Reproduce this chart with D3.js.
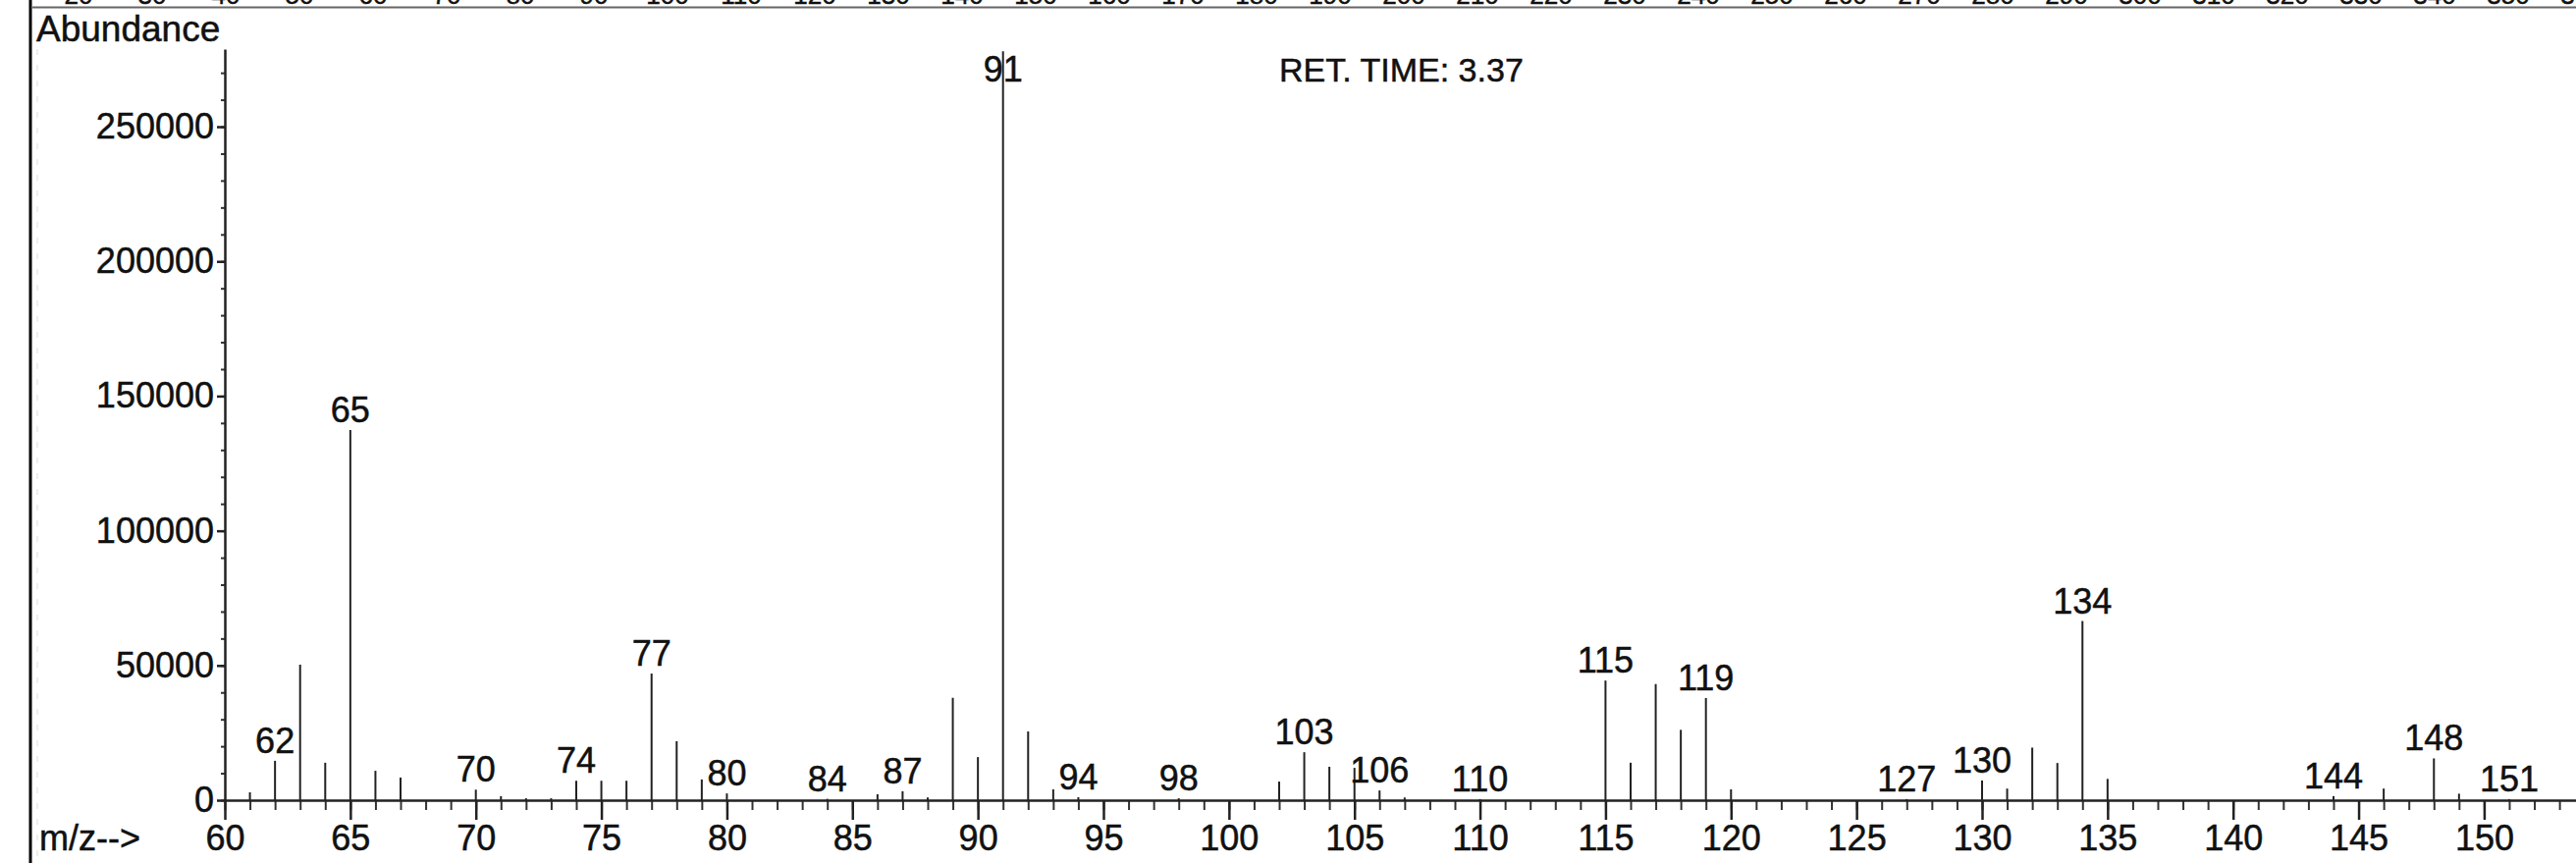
<!DOCTYPE html>
<html>
<head>
<meta charset="utf-8">
<script src="https://cdn.jsdelivr.net/npm/d3@7"></script>
<style>
  body { margin: 0; background: #fff; }
  svg { display: block; }
  text { font-family: "Liberation Sans", Arial, Helvetica, sans-serif; fill: #111; stroke: #111; stroke-width: 0.5px; }
</style>
</head>
<body>
<div id="spectrum"></div>
<script>
// m/z values and abundances
let mzValues = [61, 62, 63, 64, 65, 66, 67, 70, 71, 72, 73, 74, 75, 76, 77, 78, 79, 80,
  84, 86, 87, 88, 89, 90, 91, 92, 93, 94, 98, 102, 103, 104, 105, 106, 107, 110,
  115, 116, 117, 118, 119, 120, 127, 130, 131, 132, 133, 134, 135, 144, 146, 148, 149, 151];
let abundances = [2900, 14600, 50300, 13900, 137400, 10900, 8400, 3900, 1500, 700, 700, 7200, 7200, 7200, 47000, 21900, 7700, 2500,
  500, 2200, 3300, 1000, 38000, 16000, 278000, 25500, 4000, 1100, 700, 6900, 17800, 12400, 12000, 3600, 1000, 400,
  44400, 13900, 43100, 26100, 37900, 4000, 400, 7300, 4300, 19500, 13800, 66500, 7900, 1500, 4300, 15500, 2400, 400];
let labelledMz = [62, 65, 70, 74, 77, 80, 84, 87, 91, 94, 98, 103, 106, 110, 115, 119, 127, 130, 134, 144, 148, 151];

let yTickValues = [0, 50000, 100000, 150000, 200000, 250000];
let xTickValues = d3.range(60, 151, 5);
// row of labels from the panel above, cut off by the top edge
let upperTickLabels = d3.range(20, 370, 10);

let width = 2624;
let height = 879;

let svg = d3.select('#spectrum').append('svg').attr('width', width).attr('height', height);
svg.append('rect').attr('width', width).attr('height', height).attr('fill', '#fff');

let x = d3.scaleLinear().domain([60, 153.66]).range([229, 2624]);
let y = d3.scaleLinear().domain([0, 278800]).range([815, 50]).clamp(true);

// remains of the panel above
let upperX = d3.scaleLinear().domain([100, 350]).range([680, 2555]);
svg.append('g').selectAll('text').data(upperTickLabels).enter().append('text')
  .attr('x', d => upperX(d)).attr('y', 4)
  .attr('text-anchor', 'middle').style('font-size', '26px')
  .text(d => d);
svg.append('line').attr('x1', 33).attr('x2', width).attr('y1', 7.5).attr('y2', 7.5)
  .style('stroke', '#666').style('stroke-width', 2);

// left frame
svg.append('line').attr('x1', 31).attr('x2', 31).attr('y1', 0).attr('y2', height)
  .style('stroke', '#000').style('stroke-width', 3);
svg.append('line').attr('x1', 38).attr('x2', 38).attr('y1', 50).attr('y2', height)
  .style('stroke', '#ddd').style('stroke-width', 1).style('stroke-dasharray', '6,10');

svg.append('text').attr('x', 37).attr('y', 42).style('font-size', '37px').text('Abundance');
svg.append('text').attr('x', 1303).attr('y', 83).style('font-size', '34px').text('RET. TIME: 3.37');
svg.append('text').attr('x', 40).attr('y', 866).style('font-size', '36px').text('m/z-->');

// y axis, minor then major
let yMinor = svg.append('g').attr('transform', 'translate(229,0)')
  .call(d3.axisLeft(y).tickValues(d3.range(0, 278000, 10000)).tickSize(4).tickSizeOuter(0).tickFormat(''));
yMinor.select('.domain').remove();
let yAxis = svg.append('g').attr('transform', 'translate(229,0)')
  .call(d3.axisLeft(y).tickValues(yTickValues).tickSize(8).tickSizeOuter(0).tickPadding(3).tickFormat(d3.format('d')));
yAxis.selectAll('text').style('font-size', '36px').style('font-family', '"Liberation Sans", Arial, sans-serif').attr('fill', '#111');
yAxis.selectAll('line, path').style('stroke', '#222').style('stroke-width', 2.5);
yMinor.selectAll('line').style('stroke', '#333').style('stroke-width', 2);

// x axis
let xMinor = svg.append('g').attr('transform', 'translate(0,' + y(0) + ')')
  .call(d3.axisBottom(x).tickValues(d3.range(60, 154, 1)).tickSize(10).tickSizeOuter(0).tickFormat(''));
xMinor.select('.domain').remove();
xMinor.selectAll('line').style('stroke', '#333').style('stroke-width', 2);
let xAxis = svg.append('g').attr('transform', 'translate(0,' + y(0) + ')')
  .call(d3.axisBottom(x).tickValues(xTickValues).tickSize(20).tickSizeOuter(0).tickFormat(d3.format('d')));
xAxis.selectAll('line, path').style('stroke', '#222').style('stroke-width', 2.5);
xAxis.selectAll('text').attr('y', 51).attr('dy', null)
  .style('font-size', '36px').style('font-family', '"Liberation Sans", Arial, sans-serif').attr('fill', '#111');

// peaks
let peaks = mzValues.map((mz, i) => ({mz: mz, value: abundances[i]}));
svg.append('g').selectAll('line').data(peaks).enter().append('line')
  .attr('x1', d => x(d.mz)).attr('x2', d => x(d.mz))
  .attr('y1', y(0)).attr('y2', d => y(d.value))
  .style('stroke', '#222').style('stroke-width', 2);

// peak labels, a clipped peak gets its label just inside the top
let labelled = peaks.filter(d => labelledMz.includes(d.mz));
svg.append('g').selectAll('text').data(labelled).enter().append('text')
  .attr('x', d => x(d.mz)).attr('y', d => Math.max(y(d.value) - 8, 83))
  .attr('text-anchor', 'middle').style('font-size', '36px')
  .text(d => d.mz);
</script>
</body>
</html>
